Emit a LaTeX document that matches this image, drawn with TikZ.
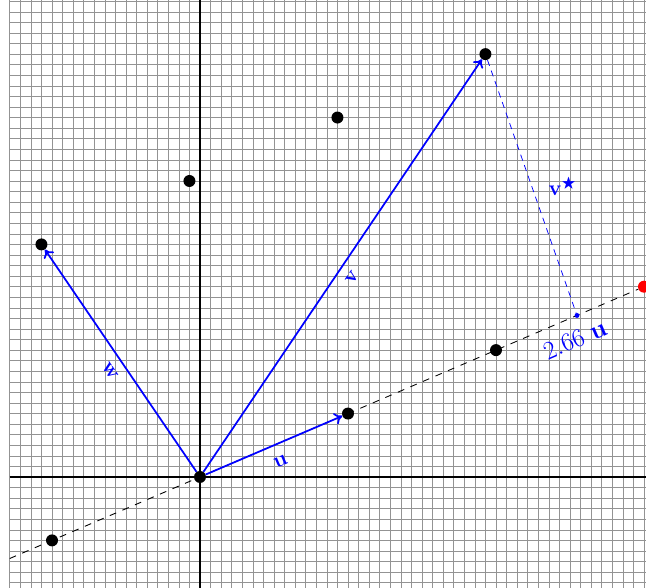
\documentclass[tikz,border=0pt]{standalone}
\usepackage{amsmath,amssymb}
\usepackage{tikz}
\usetikzlibrary{positioning,arrows.meta,calc}
\usepackage{xcolor}

\tikzset{
  gridline/.style={gray!85,line width=0.5pt},
  axisline/.style={black,line width=1.4pt},
  dot/.style={circle,fill=black,inner sep=0pt,minimum size=3.4mm},
  vec/.style={blue,line width=1.4pt,-{To[length=2.2mm,width=3.4mm]}},
  veclabel/.style={blue,font=\LARGE,sloped},
}

\begin{document}
\begin{tikzpicture}[x=0.3cm,y=0.3cm]
\useasboundingbox (-18.92,-10.41) rectangle (42.19,45.12);
\clip (-18.92,-10.41) rectangle (42.19,45.12);
\draw[gridline,step=0.3cm] (-18,-11) grid (43,46);
\draw[axisline] (-18,0) -- (43,0);
\draw[axisline] (0,-11) -- (0,46);
% multiples of u along the dashed line
\node[dot] (O) at (0,0) {};
\node[dot] (Um) at (-14,-6) {};
\node[dot] (U) at (14,6) {};
\node[dot] (U2) at (28,12) {};
\node[dot,fill=red] (R) at (42,18) {};
\coordinate (start) at (-18,-7.714);
\draw[black,line width=0.7pt,dash pattern=on 5.5pt off 5.5pt] (start) -- (R);
% v and its shifts by u
\node[dot] (V) at (27,40) {};
\node[dot] (V1) at (13,34) {};
\node[dot] (V2) at (-1,28) {};
\node[dot] (W) at (-15,22) {};
\node[circle,fill=blue,inner sep=0pt,minimum size=1.4mm] (P) at (35.66,15.28) {};
\draw[vec] (O) -- (U) node[veclabel,midway,below=6pt] {$\mathbf{u}$};
\draw[vec] (O) -- (V) node[veclabel,pos=0.49,below=4pt] {$\mathbf{v}$};
\draw[vec] (O) -- (W) node[veclabel,pos=0.49,below=4pt] {$\mathbf{w}$};
\draw[blue,line width=0.6pt,dash pattern=on 5pt off 4pt] (V) -- (P)
  node[midway,right=10pt,font=\LARGE] {$\mathbf{v}^{\bigstar}$};
\path (start) -- (R) node[pos=0.886,sloped,below=7pt,blue,font=\huge] {$2.66\ \mathbf{u}$};
\end{tikzpicture}
\end{document}
